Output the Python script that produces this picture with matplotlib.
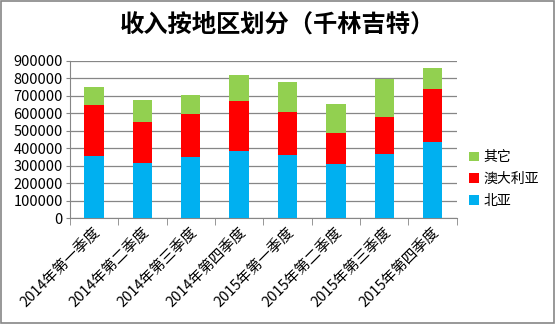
import matplotlib
matplotlib.use("Agg")
import matplotlib.pyplot as plt
import numpy as np
from matplotlib.patches import Rectangle

plt.rcParams['font.family'] = ['Noto Sans CJK SC', 'DejaVu Sans']

quarters = ['2014年第一季度', '2014年第二季度', '2014年第三季度', '2014年第四季度',
            '2015年第一季度', '2015年第二季度', '2015年第三季度', '2015年第四季度']
north_asia = [356000, 314000, 350000, 384000, 361000, 310000, 369000, 437000]
australia = [291000, 238000, 247000, 286000, 248000, 179000, 211000, 299000]
others = [103000, 124000, 105000, 150000, 169000, 165000, 217000, 124000]

fig = plt.figure(figsize=(5.55, 3.24), dpi=100)
ax = fig.add_axes([0.126, 0.326, 0.697, 0.487])

x = np.arange(len(quarters))
w = 0.4
b1 = ax.bar(x, north_asia, w, color='#00B0F0', label='北亚', zorder=3)
b2 = ax.bar(x, australia, w, bottom=north_asia, color='#FF0000', label='澳大利亚', zorder=3)
bottom2 = np.array(north_asia) + np.array(australia)
b3 = ax.bar(x, others, w, bottom=bottom2, color='#92D050', label='其它', zorder=3)

ax.set_xlim(-0.5, len(quarters) - 0.5)
ax.set_ylim(0, 900000)
ax.set_yticks(np.arange(0, 900001, 100000))
ax.yaxis.grid(True, color='#868686', linewidth=0.9, zorder=0)
ax.tick_params(axis='y', labelsize=10.5, length=3, color='#868686', pad=2)

ax.set_xticks(x)
ax.set_xticklabels(quarters, rotation=45, ha='right', rotation_mode='anchor', fontsize=10.5)
ax.tick_params(axis='x', which='major', length=0, pad=5)
ax.set_xticks(np.arange(-0.5, len(quarters)), minor=True)
ax.tick_params(axis='x', which='minor', length=5, color='#868686')

for s in ['top', 'right']:
    ax.spines[s].set_visible(False)
for s in ['left', 'bottom']:
    ax.spines[s].set_color('#868686')

ax.legend(handles=[b3, b2, b1], loc='center left', bbox_to_anchor=(1.0, 0.25),
          frameon=False, fontsize=10, handlelength=0.7, handleheight=0.7,
          handletextpad=0.35, labelspacing=0.55)

fig.text(0.5, 0.925, '收入按地区划分（千林吉特）', ha='center', va='center',
         fontsize=17.5, fontweight='bold')

fig.patches.append(Rectangle((0.002, 0.003), 0.996, 0.994, transform=fig.transFigure,
                             fill=False, edgecolor='#868686', linewidth=1.2))

fig.savefig('out.png', dpi=100)
